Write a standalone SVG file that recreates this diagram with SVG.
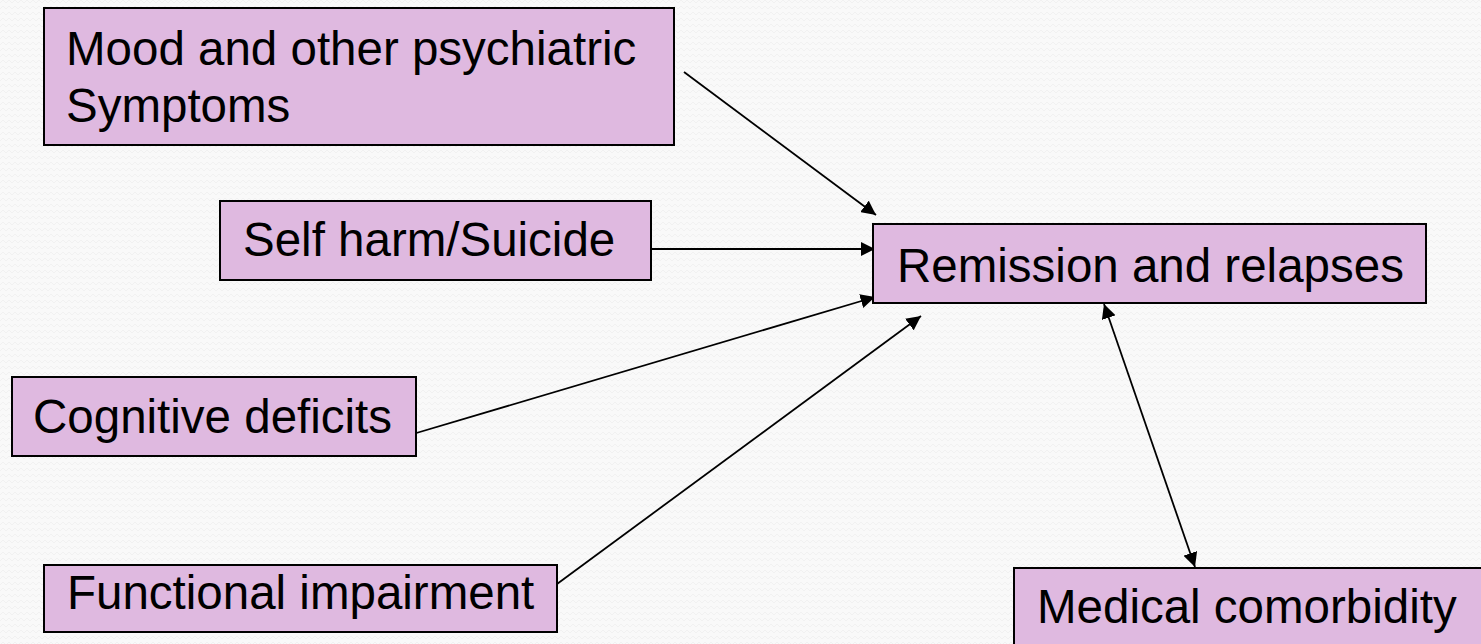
<svg xmlns="http://www.w3.org/2000/svg" width="1481" height="644" viewBox="0 0 1481 644">
<style>
.box{fill:#dfb9e0;stroke:#000;stroke-width:2}
.t{font-family:"Liberation Sans",Arial,sans-serif;font-size:47.5px;fill:#000}
.c{stroke:#000;stroke-width:1.8;fill:none}
</style>
<defs>
<pattern id="bg" width="6" height="6" patternUnits="userSpaceOnUse">
<rect width="6" height="6" fill="#f9f9f9"/>
<path d="M0 3 L3 0 L6 3" stroke="#f1f1f1" stroke-width="1" fill="none"/>
</pattern>
<marker id="ah" viewBox="0 0 10 10" refX="10" refY="5" markerWidth="8" markerHeight="8" markerUnits="strokeWidth" orient="auto-start-reverse">
<path d="M0 0 L10 5 L0 10 z" fill="#000"/>
</marker>
</defs>
<rect width="1481" height="644" fill="url(#bg)"/>
<g id="connectors">
<line class="c" x1="684" y1="72" x2="876" y2="215" marker-end="url(#ah)"/>
<line class="c" x1="652" y1="249" x2="875" y2="249" marker-end="url(#ah)"/>
<line class="c" x1="413" y1="434" x2="875" y2="297" marker-end="url(#ah)"/>
<line class="c" x1="557" y1="584" x2="921" y2="316" marker-end="url(#ah)"/>
<line class="c" x1="1104" y1="304" x2="1195" y2="567" marker-start="url(#ah)" marker-end="url(#ah)"/>
</g>
<g id="mood">
<rect class="box" x="44" y="8" width="630" height="137"/>
<text class="t" x="66" y="65">Mood and other psychiatric</text>
<text class="t" x="66" y="122">Symptoms</text>
</g>
<g id="selfharm">
<rect class="box" x="220" y="201" width="431" height="79"/>
<text class="t" x="243" y="256">Self harm/Suicide</text>
</g>
<g id="remission">
<rect class="box" x="873" y="224" width="553" height="79"/>
<text class="t" x="897" y="282">Remission and relapses</text>
</g>
<g id="cognitive">
<rect class="box" x="12" y="377" width="404" height="79"/>
<text class="t" x="33" y="433">Cognitive deficits</text>
</g>
<g id="functional">
<rect class="box" x="44" y="565" width="513" height="67"/>
<text class="t" x="67" y="609">Functional impairment</text>
</g>
<g id="medical">
<rect class="box" x="1014" y="568" width="480" height="90"/>
<text class="t" x="1037" y="623">Medical comorbidity</text>
</g>
</svg>
